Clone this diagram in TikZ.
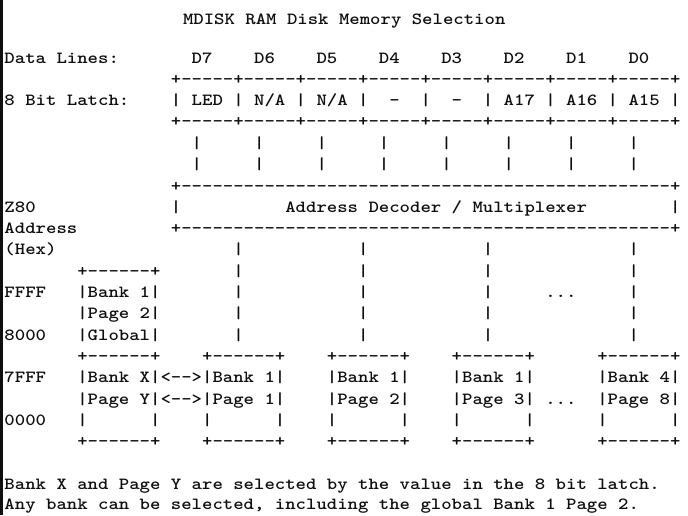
\documentclass[tikz,border=0pt]{standalone}
\usepackage{fontspec}
\definecolor{ink}{gray}{0.06}
\newcommand\xo{4.5}
\newcommand\pw{10.4}
\newcommand\dd[1]{\foreach\k in {1,...,#1}{-\kern0pt}}
\tikzset{
  tok/.style={anchor=base west, inner sep=0pt, outer sep=0pt,
    font=\ttfamily\bfseries\fontsize{19.81}{20}\selectfont, text=ink,
    transform shape, yscale=0.86},
  frame/.style={draw=ink, line width=2.6pt},
}
\newcommand\tk[4]{\node[tok] (#1) at ({\xo+\pw*#2},{#3+5}) {#4};}
\begin{document}
\frenchspacing
\begin{tikzpicture}[x=1pt,y=-1pt]
\useasboundingbox (0,0) rectangle (688,515);
\fill[white] (0,0) rectangle (688,515);
\draw[frame] (1.3,0) -- (1.3,515);
% title
\node[tok] (title) at (183,{19+5}) {MDISK RAM Disk Memory Selection};
% data lines
\tk{dl}{0}{58}{Data Lines:}
\tk{d7}{18}{58}{D7}\tk{d6}{24}{58}{D6}\tk{d5}{30}{58}{D5}\tk{d4}{36}{58}{D4}
\tk{d3}{42}{58}{D3}\tk{d2}{48}{58}{D2}\tk{d1}{54}{58}{D1}\tk{d0}{60}{58}{D0}
% latch
\tk{b4}{16}{79}{\foreach\j in {1,...,8}{+\dd{5}}+}
\tk{lt}{0}{100}{8 Bit Latch:}
\tk{lc}{16}{100}{|~LED~|~N/A~|~N/A~|~~-~~|~~-~~|~A17~|~A16~|~A15~|}
\tk{b6}{16}{121}{\foreach\j in {1,...,8}{+\dd{5}}+}
\tk{p7}{18}{143}{|~~~~~|~~~~~|~~~~~|~~~~~|~~~~~|~~~~~|~~~~~|}
\tk{p8}{18}{164}{|~~~~~|~~~~~|~~~~~|~~~~~|~~~~~|~~~~~|~~~~~|}
% decoder
\tk{b9}{16}{186}{+\dd{47}+}
\tk{z80}{0}{207}{Z80}
\tk{dl1}{16}{207}{|}
\tk{dec}{27}{207}{Address Decoder / Multiplexer}
\tk{dl2}{64}{207}{|}
\tk{adr}{0}{228}{Address}
\tk{b11}{16}{228}{+\dd{47}+}
\tk{hex}{0}{249}{(Hex)}
% long pipes
\foreach \r/\yy in {12/249,13/271,14/292,15/313,16/335}{
  \node[tok] (pa\r) at ({\xo+\pw*22},{\yy+5}) {|};
  \node[tok] (pb\r) at ({\xo+\pw*34},{\yy+5}) {|};
  \node[tok] (pc\r) at ({\xo+\pw*46},{\yy+5}) {|};
  \node[tok] (pd\r) at ({\xo+\pw*60},{\yy+5}) {|};
}
% global box
\tk{gt}{7}{271}{+\dd{6}+}
\tk{ffff}{0}{292}{FFFF}
\tk{g1}{7}{292}{|Bank 1|}
\tk{dots1}{52}{292}{...}
\tk{g2}{7}{313}{|Page 2|}
\tk{k8000}{0}{335}{8000}
\tk{g3}{7}{335}{|Global|}
% lower boxes
\foreach \c in {7,19,31,43,57}{
  \node[tok] (bt\c) at ({\xo+\pw*\c},{356+5}) {+\dd{6}+};
  \node[tok] (be\c) at ({\xo+\pw*\c},{420+5}) {|~~~~~~|};
  \node[tok] (bb\c) at ({\xo+\pw*\c},{441+5}) {+\dd{6}+};
}
\tk{k7fff}{0}{377}{7FFF}
\tk{x1}{7}{377}{|Bank X|<\dd{2}>|Bank 1|}
\tk{x2}{31}{377}{|Bank 1|}
\tk{x3}{43}{377}{|Bank 1|}
\tk{x4}{57}{377}{|Bank 4|}
\tk{y1}{7}{399}{|Page Y|<\dd{2}>|Page 1|}
\tk{y2}{31}{399}{|Page 2|}
\tk{y3}{43}{399}{|Page 3|}
\tk{dots2}{52}{399}{...}
\tk{y4}{57}{399}{|Page 8|}
\tk{k0000}{0}{420}{0000}
% notes
\tk{n1}{0}{484}{Bank X and Page Y are selected by the value in the 8 bit latch.}
\tk{n2}{0}{504}{Any bank can be selected, including the global Bank 1 Page 2.}
\end{tikzpicture}
\end{document}
